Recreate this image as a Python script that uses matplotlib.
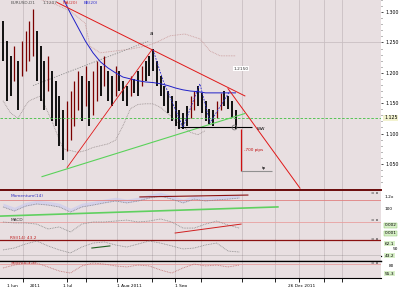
import numpy as np
import matplotlib
matplotlib.use("Agg")
import matplotlib.pyplot as plt

# ---------------- data ----------------
highs = [1.285, 1.252, 1.228, 1.244, 1.220, 1.252, 1.269, 1.285, 1.305, 1.269,
         1.244, 1.220, 1.228, 1.203, 1.187, 1.162, 1.138, 1.154, 1.170, 1.187,
         1.203, 1.195, 1.211, 1.187, 1.203, 1.220, 1.211, 1.228, 1.203, 1.195,
         1.211, 1.203, 1.187, 1.179, 1.195, 1.190, 1.203, 1.211, 1.220, 1.228,
         1.239, 1.220, 1.195, 1.179, 1.170, 1.162, 1.154, 1.138, 1.134, 1.146,
         1.162, 1.170, 1.179, 1.167, 1.154, 1.141, 1.138, 1.154, 1.167, 1.170,
         1.162, 1.154, 1.138]
lows = [1.220, 1.154, 1.162, 1.187, 1.138, 1.195, 1.203, 1.220, 1.228, 1.187,
        1.154, 1.138, 1.170, 1.121, 1.113, 1.080, 1.056, 1.072, 1.089, 1.113,
        1.138, 1.121, 1.146, 1.113, 1.130, 1.154, 1.162, 1.179, 1.154, 1.146,
        1.162, 1.170, 1.154, 1.146, 1.162, 1.167, 1.162, 1.179, 1.187, 1.195,
        1.203, 1.179, 1.162, 1.146, 1.134, 1.121, 1.113, 1.108, 1.108, 1.113,
        1.125, 1.138, 1.146, 1.134, 1.121, 1.115, 1.113, 1.125, 1.138, 1.146,
        1.141, 1.125, 1.108]

ma_idx = [16, 18, 20, 22, 24, 26, 28, 30, 32, 34, 36, 38, 40, 42, 44, 46, 48, 50, 52, 54, 56, 58, 60, 62]
ma_val = [1.323, 1.298, 1.275, 1.252, 1.233, 1.218, 1.208, 1.200, 1.193, 1.190, 1.187, 1.185,
          1.184, 1.182, 1.179, 1.175, 1.172, 1.170, 1.169, 1.167, 1.167, 1.167, 1.167, 1.167]

up_idx = [9.9, 13.9, 17.9, 21.9, 23.2, 25.9, 29.9, 33.9, 37.9, 40.5, 44.5, 48.5, 52.5, 55.2, 57.9, 62.1]
up_val = [1.321, 1.313, 1.302, 1.282, 1.244, 1.233, 1.236, 1.239, 1.244, 1.249, 1.261, 1.264,
          1.256, 1.236, 1.228, 1.228]
lo_idx = [0, 2, 4, 6, 7, 10, 13, 16, 18, 20, 22, 24, 26, 28, 30, 32, 34, 36, 38, 40, 42, 44, 46, 48, 50, 52, 54]
lo_val = [1.154, 1.134, 1.125, 1.146, 1.154, 1.162, 1.121, 1.075, 1.072, 1.069, 1.072, 1.077,
          1.080, 1.083, 1.089, 1.113, 1.141, 1.148, 1.149, 1.149, 1.143, 1.133, 1.121, 1.111,
          1.102, 1.098, 1.105]

# trend / pattern lines (bar index, price)
red_down_x, red_down_y = [14.4, 64.5], [1.316, 1.162]
red_up_x, red_up_y = [17.1, 39.7], [1.044, 1.238]
red_proj_x, red_proj_y = [60.0, 79.2], [1.174, 1.010]
green_x, green_y = [10.4, 64.5], [1.029, 1.133]
gray_x, gray_y = [8.0, 38.7], [1.179, 1.252]
zig_x = [40.0, 42.7, 48.0, 52.5, 55.2, 60.5]
zig_y = [1.238, 1.187, 1.110, 1.182, 1.118, 1.170]
neck_x, neck_y = [47.2, 66.4], 1.110
support_level = 1.125
target_x, target_top, target_bot = 63.5, 1.108, 1.038
target_end = 71.7

price_ticks = [1.30, 1.25, 1.20, 1.15, 1.10, 1.05]
grid_pos = [5.3, 17.1, 22.1, 30.4, 39.7, 45.9, 52.8, 63.7, 72.5, 78.9, 85.6, 90.4]

osc_idx = list(range(0, 64, 3))
p1 = [41, 26, 44, 52, 48, 41, 22, 41, 48, 56, 63, 56, 63, 74, 81, 70, 56, 70, 63, 67, 70, 74]
p2 = [79, 74, 74, 68, 42, 53, 26, 68, 79, 79, 84, 89, 79, 84, 95, 79, 47, 47, 68, 84, 63, 47]
p3 = [32, 42, 63, 79, 53, 32, 16, 47, 68, 74, 58, 47, 63, 79, 68, 53, 37, 42, 58, 68, 26, 21]
p4 = [59, 76, 88, 88, 65, 41, 29, 71, 88, 82, 71, 65, 76, 71, 47, 29, 59, 82, 71, 76, 65, 76]

x_tick_pos = [1.0, 7.0, 16.0, 30.4, 45.9, 76.0]
x_tick_lab = ["1 Jun", "2011", "1 Jul", "1 Aug 2011", "1 Sep", "26 Dec 2011"]

# ---------------- figure ----------------
W, H = 400, 287
fig = plt.figure(figsize=(4, 2.87), dpi=100)
fig.patch.set_facecolor("white")
BG = "#e8dfe1"
GRID = "#c9bfc2"
XL = (-0.8, 100.8)
FS = 3.1


def px_axes(x0, y0, x1, y1):
    return fig.add_axes([x0 / W, 1 - y1 / H, (x1 - x0) / W, (y1 - y0) / H])


def style(ax):
    ax.set_facecolor(BG)
    ax.set_xlim(*XL)
    for g in grid_pos:
        ax.axvline(g, color=GRID, lw=0.6, zorder=0)
    for s in ax.spines.values():
        s.set_visible(False)
    ax.set_xticks([])
    ax.set_yticks([])


# main panel
ax = px_axes(0, 0, 381, 190)
style(ax)
ax.set_ylim(1.007, 1.318)
ax.axhline(1.250, color=GRID, lw=0.6, zorder=0)

idx = np.arange(len(highs))
mids = [(h + l) / 2 for h, l in zip(highs, lows)]
for i in idx:
    up = i > 0 and mids[i] > mids[i - 1] + 0.01
    ax.vlines(i, lows[i], highs[i], color="#7a0000" if up else "black",
              lw=0.9 if up else 1.3, zorder=3)

ax.plot(up_idx, up_val, color="#c99a9a", lw=0.6, ls=(0, (1, 1)), zorder=2)
ax.plot(lo_idx, lo_val, color="#9a9090", lw=0.6, ls=(0, (1, 1)), zorder=2)
ax.plot(ma_idx, ma_val, color="#2020c8", lw=0.7, zorder=4)
ax.plot(gray_x, gray_y, color="#8a8a8a", lw=0.6, ls=(0, (1.5, 1.5)), zorder=2)
ax.plot(red_down_x, red_down_y, color="#e01818", lw=0.7, zorder=5)
ax.plot(red_up_x, red_up_y, color="#e01818", lw=0.6, zorder=5)
ax.plot(red_proj_x, red_proj_y, color="#e01818", lw=0.7, zorder=5)
ax.plot(green_x, green_y, color="#5ad25a", lw=0.8, zorder=5)
ax.axhline(support_level, color="#40c040", lw=0.6, ls=(0, (3, 2)), zorder=4)
ax.plot(zig_x, zig_y, color="#2828d0", lw=0.6, ls=(0, (2, 1.5)), zorder=5)
ax.hlines(neck_y, neck_x[0], neck_x[1], color="black", lw=0.8, zorder=5)
ax.vlines(target_x, target_bot, target_top, color="#d01010", lw=0.9, zorder=5)
ax.hlines(target_bot, target_x, target_end, color="#909090", lw=0.8, zorder=5)
ax.plot([61.6], [neck_y], marker="o", ms=3.5, mfc="none", mec="#707070", mew=0.5, zorder=6)

tk = dict(fontsize=FS, zorder=7)
ax.text(2, 1.313, "EURUSD,D1", color="#555555", **tk)
ax.text(10.5, 1.313, "1.1207", color="#555555", **tk)
ax.text(16.0, 1.313, "MA(20)", color="#d03030", **tk)
ax.text(21.5, 1.313, "BB(20)", color="#3030d0", **tk)
ax.text(39.2, 1.262, "a", color="black", fontsize=4, zorder=7)
ax.text(61.5, 1.205, "1.2150", color="#333333", fontsize=FS, zorder=7,
        bbox=dict(boxstyle="square,pad=0.15", fc="white", ec="none"))
ax.text(67.7, 1.106, "WW", color="black", fontsize=FS, zorder=7)
ax.text(64.2, 1.072, "-700 pips", color="#c01010", fontsize=3, zorder=7)
ax.text(69.0, 1.041, "tp", color="black", fontsize=3, zorder=7)

ax.yaxis.tick_right()
ax.set_yticks(price_ticks)
ax.set_yticklabels([f"{v:.3f}" for v in price_ticks])
ax.tick_params(axis="y", labelsize=3.4, length=1.5, width=0.5, pad=1.5, colors="black")
ax.set_yticks(np.arange(1.02, 1.32, 0.01), minor=True)
ax.tick_params(axis="y", which="minor", length=1, width=0.4)
ax.text(1.008, (support_level - 1.007) / (1.318 - 1.007), f"{support_level:.3f}",
        transform=ax.transAxes, fontsize=3.4, va="center", ha="left",
        bbox=dict(boxstyle="square,pad=0.15", fc="#f2f2cf", ec="none"))
ax.plot([-0.8, 100.8], [1.0075, 1.0075], color="#6a0a0a", lw=1.4, clip_on=False, zorder=8)

# panel 1
a1 = px_axes(0, 191, 381, 218)
style(a1)
a1.set_ylim(0, 100)
a1.fill_between(osc_idx, p1, [v + 14 for v in p1], color="#c8c8f0", alpha=0.6, lw=0, zorder=1)
a1.plot(osc_idx, p1, color="#888888", lw=0.6, ls=(0, (1, 1)), zorder=3)
a1.axhline(67, color="#e08080", lw=0.6, zorder=2)
a1.plot([-0.8, 73.3], [7, 41], color="#60d060", lw=1.2, zorder=4)
a1.plot([36.5, 65.3], [78, 85], color="#8a1010", lw=0.8, zorder=4)
a1.text(2, 78, "Momentum(14)", color="#3030c0", fontsize=FS, zorder=6)
a1.text(1.01, 0.78, "1.2x", transform=a1.transAxes, fontsize=FS, va="center")
a1.text(1.01, 0.35, "100", transform=a1.transAxes, fontsize=FS, va="center")
a1.text(0.975, 0.93, "= x", transform=a1.transAxes, fontsize=3, va="center")

# panel 2
a2 = px_axes(0, 218, 381, 237)
style(a2)
a2.set_ylim(0, 100)
a2.axhline(79, color="#e8a0a0", lw=0.6, zorder=2)
a2.plot(osc_idx, p2, color="#888888", lw=0.6, ls=(0, (1, 1)), zorder=3)
a2.plot([45.9, 63.5], [21, 68], color="#d02020", lw=0.7, zorder=4)
a2.text(2, 82, "MACD", color="#333333", fontsize=FS, zorder=6)
a2.text(0.975, 0.9, "= x", transform=a2.transAxes, fontsize=3, va="center")
for yy, s in [(0.62, "0.002"), (0.2, "0.001")]:
    a2.text(1.01, yy, s, transform=a2.transAxes, fontsize=FS, va="center",
            bbox=dict(boxstyle="square,pad=0.15", fc="#d8f0c8", ec="#80c060", lw=0.3))

# panel 3
a3 = px_axes(0, 237, 381, 256)
style(a3)
a3.set_ylim(0, 100)
a3.axhline(84, color="#8a1010", lw=0.9, zorder=2)
a3.plot(osc_idx, p3, color="#888888", lw=0.6, ls=(0, (1, 1)), zorder=3)
a3.plot([23.7, 28.5], [42, 53], color="#206020", lw=0.8, zorder=4)
a3.text(2, 91, "RSI(14) 43.2", color="#c02020", fontsize=FS, zorder=6)
a3.text(0.975, 0.92, "= x", transform=a3.transAxes, fontsize=3, va="center")
a3.text(1.01, 0.65, "62.1", transform=a3.transAxes, fontsize=FS, va="center",
        bbox=dict(boxstyle="square,pad=0.15", fc="#d8f0c8", ec="none"))
a3.text(1.03, 0.35, "50", transform=a3.transAxes, fontsize=FS, va="center")
a3.text(1.01, 0.02, "43.2", transform=a3.transAxes, fontsize=FS, va="center",
        bbox=dict(boxstyle="square,pad=0.15", fc="#d8f0c8", ec="none"))
a3.plot([-0.8, 100.8], [0.5, 0.5], color="black", lw=0.9, clip_on=False, zorder=8)

# gap strip
ag = px_axes(0, 256, 381, 261)
style(ag)
ag.set_ylim(0, 1)
ag.plot([-0.8, 100.8], [0.05, 0.05], color="black", lw=0.9, clip_on=False)

# panel 4
a4 = px_axes(0, 261, 381, 278)
style(a4)
a4.set_ylim(0, 100)
a4.plot([-0.8, 100.8], [99, 99], color="black", lw=0.9, clip_on=False, zorder=8)
a4.axhline(82, color="#e8a0a0", lw=0.6, zorder=2)
a4.plot(osc_idx, p4, color="#c07070", lw=0.6, ls=(0, (1, 1)), zorder=3)
a4.text(2, 80, "Stoch(5,3,3)", color="#c02020", fontsize=FS, zorder=6)
a4.text(0.975, 0.88, "= x", transform=a4.transAxes, fontsize=3, va="center")
a4.text(1.02, 0.72, "80", transform=a4.transAxes, fontsize=FS, va="center")
a4.text(1.01, 0.25, "55.3", transform=a4.transAxes, fontsize=FS, va="center",
        bbox=dict(boxstyle="square,pad=0.15", fc="#d8f0c8", ec="none"))
a4.spines["bottom"].set_visible(True)
a4.spines["bottom"].set_linewidth(0.8)
a4.set_xticks(grid_pos)
a4.set_xticklabels([])
a4.tick_params(axis="x", direction="out", length=3, width=0.6, pad=0.5)
for xp, lab in zip(x_tick_pos, x_tick_lab):
    a4.text(xp, -34, lab, fontsize=FS, ha="left", va="top", clip_on=False)

fig.savefig("out.png", dpi=100, facecolor="white")
